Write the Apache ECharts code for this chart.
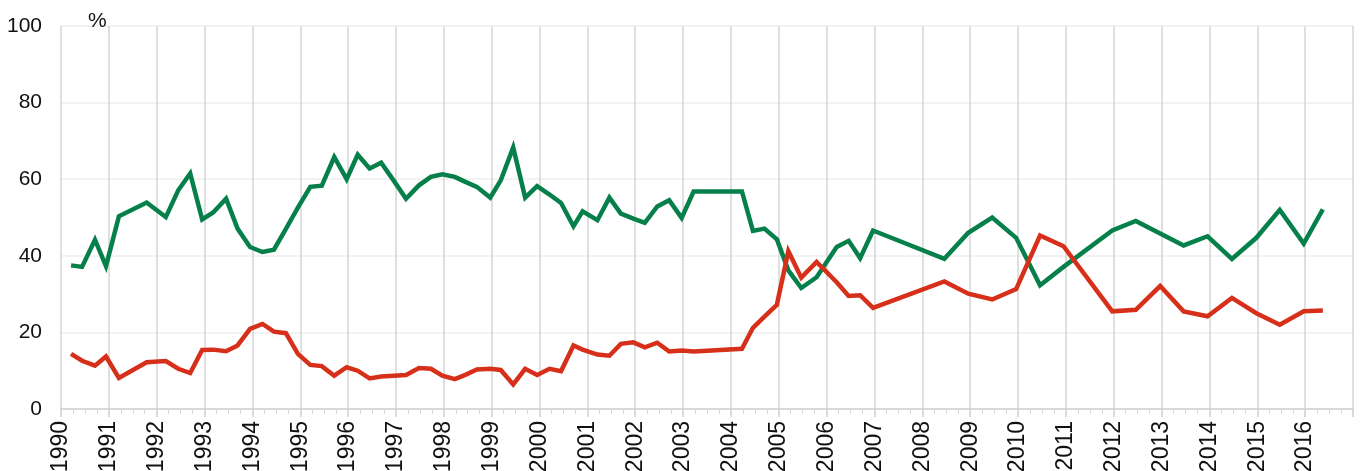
<!DOCTYPE html>
<html>
<head>
<meta charset="utf-8">
<script src="https://cdn.jsdelivr.net/npm/echarts@6/dist/echarts.min.js"></script>
<style>
  html, body { margin: 0; padding: 0; background: #fff; }
  #chart { width: 1363px; height: 471px; }
</style>
</head>
<body>
<div id="chart"></div>
<script>
// observation dates (fractional years)
const dates = [
  1990.21, 1990.44, 1990.71, 1990.94, 1991.21, 1991.79, 1992.19, 1992.45, 1992.70, 1992.95,
  1993.18, 1993.45, 1993.69, 1993.95, 1994.21, 1994.45, 1994.70, 1994.95, 1995.21, 1995.45,
  1995.71, 1995.97, 1996.20, 1996.45, 1996.69, 1996.95, 1997.21, 1997.48, 1997.73, 1997.97,
  1998.23, 1998.45, 1998.69, 1998.97, 1999.19, 1999.45, 1999.70, 1999.95, 2000.21, 2000.45,
  2000.71, 2000.90, 2001.21, 2001.46, 2001.70, 2001.96, 2002.20, 2002.46, 2002.71, 2002.97,
  2003.22, 2004.23, 2004.46, 2004.70, 2004.96, 2005.20, 2005.47, 2005.79, 2006.21, 2006.46,
  2006.70, 2006.97, 2008.46, 2008.96, 2009.46, 2009.96, 2010.46, 2010.95, 2011.97, 2012.46,
  2012.97, 2013.46, 2013.96, 2014.47, 2014.98, 2015.47, 2015.97, 2016.37
];

// green series
const greenValues = [
  37.5, 37.1, 44.2, 37.3, 50.3, 53.9, 50.1, 57.1, 61.5, 49.5,
  51.3, 54.9, 47.1, 42.3, 41.0, 41.6, 47.0, 52.6, 58.0, 58.3,
  65.8, 60.0, 66.4, 62.8, 64.3, 59.7, 54.9, 58.4, 60.6, 61.3,
  60.6, 59.3, 58.0, 55.2, 59.7, 68.3, 55.2, 58.2, 56.0, 53.8,
  47.7, 51.6, 49.3, 55.2, 51.0, 49.7, 48.6, 52.9, 54.5, 49.9,
  56.8, 56.8, 46.5, 47.1, 44.3, 36.2, 31.6, 34.4, 42.3, 43.9,
  39.4, 46.6, 39.2, 46.0, 50.0, 44.7, 32.3, 37.1, 46.6, 49.1,
  45.8, 42.7, 45.1, 39.2, 44.7, 52.0, 43.2, 52.1
];

// red series
const redValues = [
  14.4, 12.6, 11.3, 13.7, 8.1, 12.2, 12.5, 10.5, 9.4, 15.4,
  15.5, 15.1, 16.6, 20.9, 22.2, 20.2, 19.8, 14.4, 11.5, 11.2,
  8.7, 10.9, 10.0, 8.0, 8.5, 8.7, 8.9, 10.7, 10.5, 8.7,
  7.8, 8.9, 10.3, 10.5, 10.2, 6.4, 10.5, 8.9, 10.5, 9.9,
  16.6, 15.5, 14.2, 13.9, 17.0, 17.4, 16.1, 17.3, 15.0, 15.3,
  15.0, 15.7, 21.2, 24.1, 27.2, 41.2, 34.3, 38.4, 33.1, 29.5,
  29.7, 26.4, 33.3, 30.1, 28.6, 31.3, 45.3, 42.5, 25.5, 25.9,
  32.1, 25.5, 24.2, 29.0, 25.0, 22.0, 25.5, 25.7
];

const xMin = 1990;
const xMax = 2017;
const yTicks = [0, 20, 40, 60, 80, 100];

const pairs = (vals) => dates.map((d, i) => [d, vals[i]]);

const chart = echarts.init(document.getElementById("chart"));

const option = {
  animation: false,
  textStyle: { fontFamily: "Liberation Sans, Arial, sans-serif" },
  title: {
    text: "%",
    left: 83,
    top: 6,
    textStyle: { fontSize: 21, fontWeight: "normal", color: "#111", fontFamily: "Liberation Sans" },
  },
  grid: { left: 61, right: 10, top: 26, bottom: 62, containLabel: false, outerBoundsMode: "none" },
  xAxis: {
    type: "value",
    min: xMin,
    max: xMax,
    interval: 1,
    axisLine: { show: true, lineStyle: { color: "#d0d0d0", width: 1.5 } },
    axisTick: { show: true, length: 8, lineStyle: { color: "#d0d0d0", width: 1.5 } },
    minorTick: { show: true, splitNumber: 4, length: 5, lineStyle: { color: "#d8d8d8", width: 1 } },
    splitLine: { show: true, lineStyle: { color: "#d4d4d4", width: 1.5 } },
    axisLabel: {
      rotate: 90,
      margin: 12,
      fontSize: 23,
      color: "#111",
      fontFamily: "Liberation Sans",
      hideOverlap: false,
      formatter: (v) => (v >= xMax ? "" : String(v)),
    },
  },
  yAxis: {
    type: "value",
    min: yTicks[0],
    max: yTicks[yTicks.length - 1],
    interval: 20,
    axisLine: { show: false },
    axisTick: { show: false },
    splitLine: { show: true, lineStyle: { color: "#eeeeee", width: 1.5 } },
    axisLabel: {
      margin: 19,
      fontSize: 21,
      color: "#111",
      fontFamily: "Liberation Sans",
    },
  },
  series: [
    {
      name: "green",
      type: "line",
      data: pairs(greenValues),
      showSymbol: false,
      lineStyle: { color: "#06804a", width: 4.5, join: "miter" },
      itemStyle: { color: "#06804a" },
    },
    {
      name: "red",
      type: "line",
      data: pairs(redValues),
      showSymbol: false,
      lineStyle: { color: "#d7301a", width: 4.5, join: "miter" },
      itemStyle: { color: "#d7301a" },
    },
  ],
};

chart.setOption(option);
</script>
</body>
</html>
